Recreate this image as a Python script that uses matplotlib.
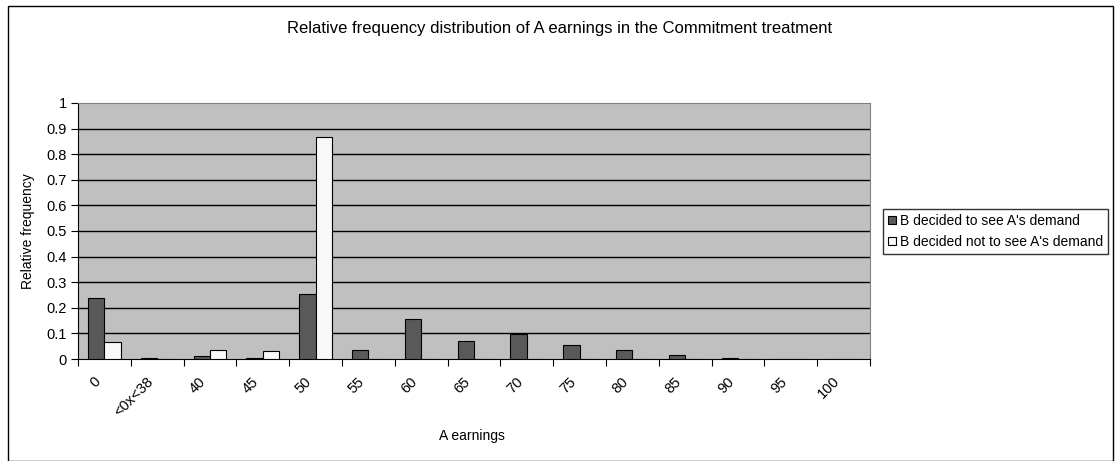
import numpy as np
import matplotlib
matplotlib.use("Agg")
import matplotlib.pyplot as plt
from matplotlib.patches import Rectangle

plt.rcParams['font.family'] = ['Liberation Sans', 'DejaVu Sans']

categories = ["0", "<0x<38", "40", "45", "50", "55", "60", "65", "70",
              "75", "80", "85", "90", "95", "100"]
saw_demand = [0.24, 0.003, 0.012, 0.004, 0.254, 0.035, 0.155, 0.072, 0.096,
              0.054, 0.036, 0.017, 0.004, 0.0, 0.0]
no_demand = [0.067, 0.0, 0.035, 0.031, 0.868, 0.0, 0.0, 0.0, 0.0,
             0.0, 0.0, 0.0, 0.0, 0.0, 0.0]
series_names = ["B decided to see A's demand", "B decided not to see A's demand"]
yticks = [0, 0.1, 0.2, 0.3, 0.4, 0.5, 0.6, 0.7, 0.8, 0.9, 1]

W, H = 1117, 461
fig = plt.figure(figsize=(W / 100, H / 100), dpi=100)

# outer chart frame
fig.patches.append(Rectangle((8 / W, 0), (1113 - 8) / W, (H - 6) / H,
                             transform=fig.transFigure, fill=False,
                             edgecolor="black", linewidth=1.0))

ax = fig.add_axes([78 / W, (H - 359) / H, (870 - 78) / W, (359 - 103) / H])
ax.set_facecolor("#c0c0c0")

x = np.arange(len(categories))
bw = 0.31
ax.bar(x - bw / 2, saw_demand, bw, color="#595959", edgecolor="black",
       linewidth=0.8, label=series_names[0], zorder=3)
ax.bar(x + bw / 2, no_demand, bw, color="#f8f8f8", edgecolor="black",
       linewidth=0.8, label=series_names[1], zorder=3)

ax.set_xlim(-0.5, len(categories) - 0.5)
ax.set_ylim(0, 1)
ax.set_yticks(yticks)
ax.set_yticklabels([f"{v:g}" for v in yticks], fontsize=10.5)
for v in yticks[1:-1]:
    ax.axhline(v, color="black", linewidth=1.0, zorder=1)

# category boundary ticks on the x axis
ax.set_xticks(np.arange(len(categories) + 1) - 0.5)
ax.set_xticklabels([])
ax.tick_params(axis="x", length=5, width=0.8, direction="out")
ax.tick_params(axis="y", length=5, width=0.8, direction="out", pad=3)
for i, lab in enumerate(categories):
    ax.annotate(lab, xy=(i, 0), xycoords=("data", "axes fraction"),
                xytext=(-8, -11), textcoords="offset points",
                rotation=45, ha="right", va="top", rotation_mode="anchor",
                fontsize=10.5)

for side in ["top", "right"]:
    ax.spines[side].set_color("#808080")
ax.spines["left"].set_color("black")
ax.spines["bottom"].set_color("black")

ax.set_ylabel("Relative frequency", fontsize=10, labelpad=8)
fig.text(472 / W, 1 - 436 / H, "A earnings", ha="center", va="center",
         fontsize=10)
fig.text(560 / W, 1 - 29 / H,
         "Relative frequency distribution of A earnings in the Commitment treatment",
         ha="center", va="center", fontsize=12)

leg = ax.legend(loc="upper left", bbox_to_anchor=(883 / W, 1 - 209 / H),
                bbox_transform=fig.transFigure, fontsize=10, frameon=True,
                fancybox=False, handlelength=0.55, handleheight=0.55,
                handletextpad=0.3, borderpad=0.35, labelspacing=0.5,
                borderaxespad=0)
leg.get_frame().set_edgecolor("black")
leg.get_frame().set_linewidth(1.0)

fig.savefig("out.png", dpi=100)
